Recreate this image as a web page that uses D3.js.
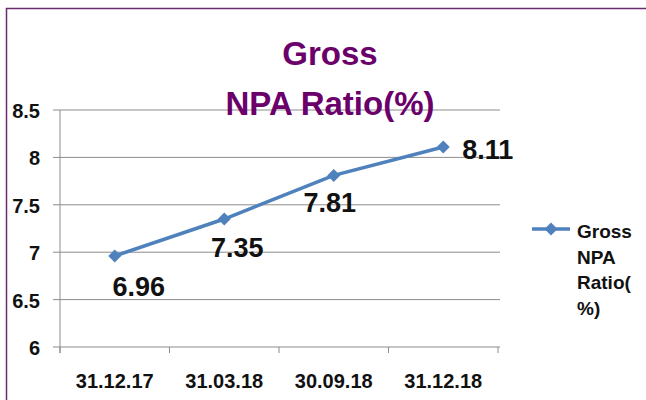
<!DOCTYPE html>
<html><head><meta charset="utf-8">
<script src="https://cdn.jsdelivr.net/npm/d3@7"></script>
<style>body{margin:0;background:#fff}svg{display:block}</style>
</head><body>
<script>
const categories = ["31.12.17","31.03.18","30.09.18","31.12.18"];
const values = [6.96, 7.35, 7.81, 8.11];
const yTicks = [6, 6.5, 7, 7.5, 8, 8.5];
const seriesName = "Gross NPA Ratio(%)";
const titleLines = ["Gross","NPA Ratio(%)"];
const legendLines = ["Gross","NPA","Ratio(","%)"];

const W = 646, H = 400;
const svg = d3.select("body").append("svg").attr("width", W).attr("height", H);
const font = "'Liberation Sans', Arial, sans-serif";

// outer border
svg.append("path").attr("d", `M6.5,${H} V8.5 H${W}`).attr("fill","none").attr("stroke","#6b2a6b").attr("stroke-width",1.5);

const x = d3.scaleBand().domain(categories).range([60, 498]);
const y = d3.scaleLinear().domain([6, 8.5]).range([347, 110]);
const cx = c => x(c) + x.bandwidth()/2;

// gridlines
svg.append("g").selectAll("line").data(yTicks).join("line")
  .attr("x1", 53).attr("x2", 500)
  .attr("y1", d => y(d)).attr("y2", d => y(d))
  .attr("stroke", "#8c8c8c").attr("stroke-width", 1);

// y axis line
svg.append("line").attr("x1",60).attr("x2",60).attr("y1",y(8.5)).attr("y2",y(6)+6).attr("stroke","#8c8c8c");
// x axis boundary ticks
const bounds = d3.range(categories.length+1).map(i => 60 + i*x.step());
svg.append("g").selectAll("line").data(bounds).join("line")
  .attr("x1", d => d).attr("x2", d => d)
  .attr("y1", y(6)).attr("y2", y(6)+6).attr("stroke","#8c8c8c");

// y labels
svg.append("g").selectAll("text").data(yTicks).join("text")
  .attr("x", 40).attr("y", d => y(d) + 8)
  .attr("text-anchor","end").attr("font-family",font).attr("font-weight","bold")
  .attr("font-size",20).attr("fill","#111").text(d => d);

// x labels
svg.append("g").selectAll("text").data(categories).join("text")
  .attr("x", d => cx(d)).attr("y", 388)
  .attr("text-anchor","middle").attr("font-family",font).attr("font-weight","bold")
  .attr("font-size",20).attr("fill","#111").text(d => d);

// line
const line = d3.line().x((d,i) => cx(categories[i])).y(d => y(d));
svg.append("path").datum(values).attr("d", line)
  .attr("fill","none").attr("stroke","#4f81bd").attr("stroke-width",3.5);

const diamondPath = "M0,-6.5L6.5,0L0,6.5L-6.5,0Z";
svg.append("g").selectAll("path").data(values).join("path")
  .attr("transform",(d,i)=>`translate(${cx(categories[i])},${y(d)})`)
  .attr("d", diamondPath).attr("fill","#4f81bd");

// data labels (manual label placement like the original)
const labelDx = [24, 13, -4, 19];
const labelDy = [40, 38, 37, 12];
svg.append("g").selectAll("text").data(values).join("text")
  .attr("x",(d,i)=> cx(categories[i]) + labelDx[i])
  .attr("y",(d,i)=> y(d) + labelDy[i])
  .attr("text-anchor",(d,i)=> i===3 ? "start" : "middle")
  .attr("font-family",font).attr("font-weight","bold").attr("font-size",27).attr("fill","#111")
  .text(d => d.toFixed(2));

// title
svg.append("g").selectAll("text").data(titleLines).join("text")
  .attr("x", 330).attr("y",(d,i)=> 65 + i*50)
  .attr("text-anchor","middle").attr("font-family",font).attr("font-weight","bold")
  .attr("font-size",33).attr("fill","#6b006b").text(d => d);

// legend
const lg = svg.append("g");
lg.append("line").attr("x1",532).attr("x2",570).attr("y1",229).attr("y2",229).attr("stroke","#4f81bd").attr("stroke-width",3.5);
lg.append("path").attr("transform","translate(551,229)").attr("d",diamondPath).attr("fill","#4f81bd");
lg.selectAll("text").data(legendLines).join("text")
  .attr("x",577).attr("y",(d,i)=> 238 + i*25.5)
  .attr("font-family",font).attr("font-weight","bold").attr("font-size",19).attr("fill","#111")
  .text(d => d);
</script>
</body></html>
